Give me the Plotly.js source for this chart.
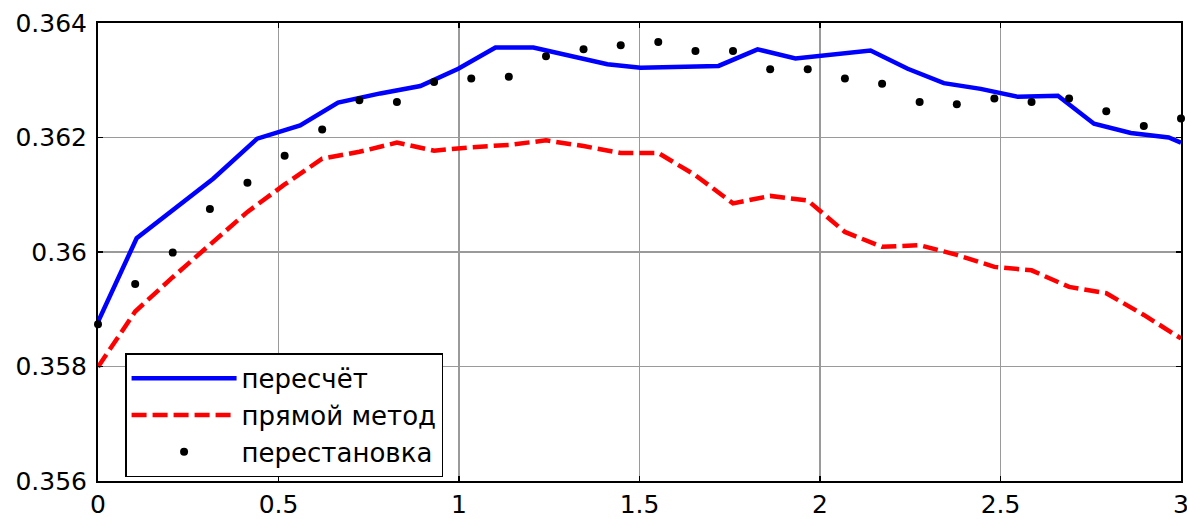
<!DOCTYPE html>
<html>
<head>
<meta charset="utf-8">
<script src="https://cdn.plot.ly/plotly-3.0.1.min.js"></script>
<style>
html,body{margin:0;padding:0;background:#fff;}
#chart{width:1187px;height:519px;}
</style>
</head>
<body>
<div id="chart"></div>
<script>
// Series names
const seriesNames = ["пересчёт", "прямой метод", "перестановка"];

// пересчёт (blue solid) — vertices
const recalcX = [0, 0.107, 0.319, 0.441, 0.56, 0.665, 0.782, 0.893, 0.998, 1.101, 1.206, 1.309, 1.411, 1.503, 1.719, 1.827, 1.932, 2.14, 2.243, 2.343, 2.445, 2.548, 2.659, 2.759, 2.861, 2.966, 3.0];
const recalcY = [0.35878, 0.36024, 0.36128, 0.36198, 0.36221, 0.36261, 0.36277, 0.3629, 0.3632, 0.36357, 0.36357, 0.36342, 0.36328, 0.36322, 0.36325, 0.36354, 0.36338, 0.36352, 0.3632, 0.36295, 0.36285, 0.36271, 0.36273, 0.36224, 0.36208, 0.362, 0.36191];

// common grid for прямой метод and перестановка
const gridX = [0, 0.103, 0.207, 0.31, 0.414, 0.517, 0.621, 0.724, 0.828, 0.931, 1.034, 1.138, 1.241, 1.345, 1.448, 1.552, 1.655, 1.759, 1.862, 1.966, 2.069, 2.172, 2.276, 2.379, 2.483, 2.586, 2.69, 2.793, 2.897, 3.0];

// прямой метод (red dashed)
const directY = [0.35799, 0.35896, 0.35956, 0.36012, 0.3607, 0.36118, 0.36163, 0.36175, 0.36191, 0.36177, 0.36183, 0.36187, 0.36195, 0.36185, 0.36173, 0.36173, 0.36134, 0.36085, 0.36098, 0.3609, 0.36035, 0.36009, 0.36012, 0.35995, 0.35974, 0.35968, 0.35939, 0.35928, 0.3589, 0.35849];

// перестановка (black dots)
const permY = [0.35874, 0.35944, 0.35999, 0.36075, 0.36121, 0.36168, 0.36214, 0.36265, 0.36262, 0.36297, 0.36303, 0.36306, 0.36342, 0.36354, 0.36361, 0.36367, 0.36351, 0.36351, 0.36319, 0.36319, 0.36303, 0.36294, 0.36262, 0.36258, 0.36268, 0.36262, 0.36268, 0.36246, 0.3622, 0.36233];

// axis ticks
const xTicks = [0, 0.5, 1, 1.5, 2, 2.5, 3];
const xTickText = ["0", "0.5", "1", "1.5", "2", "2.5", "3"];
const yTicks = [0.356, 0.358, 0.36, 0.362, 0.364];
const yTickText = ["0.356", "0.358", "0.36", "0.362", "0.364"];

const FONT = "DejaVu Sans, Arial, sans-serif";

const traces = [
  {
    x: recalcX, y: recalcY, name: seriesNames[0], type: "scatter", mode: "lines",
    legendgroup: "a",
    line: {color: "#0000ff", width: 4.5}, cliponaxis: false
  },
  {
    x: gridX, y: directY, name: seriesNames[1], type: "scatter", mode: "lines",
    legendgroup: "b",
    line: {color: "#ff0000", width: 4.5, dash: "15px,6px"}, cliponaxis: false
  },
  {
    x: gridX, y: permY, name: seriesNames[2], type: "scatter", mode: "markers",
    legendgroup: "c",
    marker: {color: "#000000", size: 8, line: {width: 0}}, cliponaxis: false
  }
];

const axisCommon = {
  showline: true, linecolor: "#000", linewidth: 2, mirror: "ticks",
  ticks: "inside", ticklen: 5, tickwidth: 1.5, tickcolor: "#000",
  showgrid: true, gridcolor: "#9a9a9a", gridwidth: 1.2,
  zeroline: false, tickfont: {family: FONT, size: 25, color: "#000"},
  ticklabeloverflow: "allow"
};

const layout = {
  width: 1187, height: 519,
  margin: {l: 98, r: 6, t: 23, b: 38, pad: 0},
  paper_bgcolor: "#fff", plot_bgcolor: "#fff",
  showlegend: true,
  xaxis: Object.assign({}, axisCommon, {
    range: [0, 3], tickvals: xTicks, ticktext: xTickText, ticklabelstandoff: 0
  }),
  yaxis: Object.assign({}, axisCommon, {
    range: [0.356, 0.364], tickvals: yTicks, ticktext: yTickText, ticklabelstandoff: 4
  }),
  legend: {
    x: 0.025, y: 0.008, xanchor: "left", yanchor: "bottom",
    bgcolor: "#fff", bordercolor: "#000", borderwidth: 1.5,
    font: {family: FONT, size: 26, color: "#000"},
    itemwidth: 105, tracegroupgap: 4, traceorder: "normal"
  }
};

Plotly.newPlot("chart", traces, layout, {displayModeBar: false, staticPlot: true});
</script>
</body>
</html>
